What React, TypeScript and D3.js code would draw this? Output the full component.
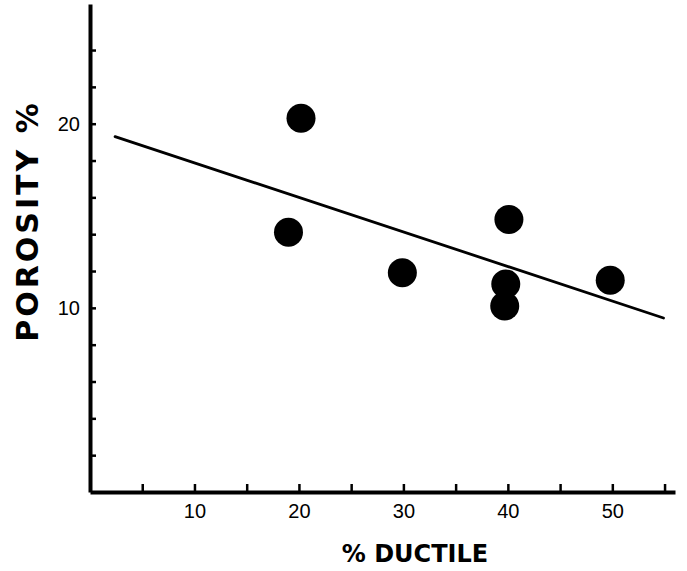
import { useRef, useEffect } from "react";
import * as d3 from "d3";

// % ductile vs porosity %
const ductile = [20.2, 19.0, 29.9, 40.1, 39.8, 39.7, 49.8];
const porosity = [20.3, 14.1, 11.9, 14.8, 11.3, 10.1, 11.5];

// fitted line end points
const fitX = [2.4, 54.9];
const fitY = [19.3, 9.45];

const xTicks = [5, 10, 15, 20, 25, 30, 35, 40, 45, 50, 55];
const yTicks = [2, 4, 6, 8, 10, 12, 14, 16, 18, 20, 22, 24];
const xLabelTicks = [10, 20, 30, 40, 50];
const yLabelTicks = [10, 20];

export default function App() {
	const svgRef = useRef(null);

	useEffect(() => {
		const width = 687,
			height = 571;

		const svg = d3
			.select(svgRef.current)
			.attr("width", width)
			.attr("height", height);

		const x = d3.scaleLinear().domain([0, 56]).range([90, 675]);
		const y = d3.scaleLinear().domain([0, 26.5]).range([492, 4]);

		const xAxis = svg
			.append("g")
			.attr("transform", `translate(0,${y(0)})`)
			.call(
				d3
					.axisBottom(x)
					.tickValues(xTicks)
					.tickSizeInner(-8)
					.tickSizeOuter(0)
					.tickPadding(12)
					.tickFormat((d) => (xLabelTicks.includes(+d) ? String(d) : ""))
			);

		const yAxis = svg
			.append("g")
			.attr("transform", `translate(${x(0)},0)`)
			.call(
				d3
					.axisLeft(y)
					.tickValues(yTicks)
					.tickSizeInner(-6)
					.tickSizeOuter(0)
					.tickPadding(10)
					.tickFormat((d) => (yLabelTicks.includes(+d) ? String(d) : ""))
			);

		[xAxis, yAxis].forEach((g) => {
			g.attr("font-size", 20).attr("font-family", "'Liberation Sans', Arial, sans-serif");
			g.select(".domain").attr("stroke", "#000").attr("stroke-width", 4);
			g.selectAll(".tick line").attr("stroke", "#000").attr("stroke-width", 2.5);
			g.selectAll(".tick text").attr("fill", "#000").attr("font-size", 20);
		});

		// regression line
		const line = d3
			.line()
			.x((d) => x(d[0]))
			.y((d) => y(d[1]));

		svg.append("path")
			.datum(fitX.map((v, i) => [v, fitY[i]]))
			.attr("fill", "none")
			.attr("stroke", "#000")
			.attr("stroke-width", 2.8)
			.attr("stroke-linecap", "round")
			.attr("d", line);

		svg.selectAll(".dot")
			.data(ductile.map((v, i) => [v, porosity[i]]))
			.enter()
			.append("circle")
			.attr("class", "dot")
			.attr("cx", (d) => x(d[0]))
			.attr("cy", (d) => y(d[1]))
			.attr("r", 14.5)
			.attr("fill", "#000");

		// X-axis label
		svg.append("text")
			.attr("x", 415)
			.attr("y", 562)
			.attr("text-anchor", "middle")
			.style("font-family", "'DejaVu Sans', sans-serif")
			.style("font-weight", "bold")
			.style("font-size", "24px")
			.text("% DUCTILE");

		// Y-axis label
		svg.append("text")
			.attr("transform", "rotate(-90)")
			.attr("x", -221)
			.attr("y", 38)
			.attr("text-anchor", "middle")
			.style("font-family", "'DejaVu Sans', sans-serif")
			.style("font-weight", "bold")
			.style("font-size", "30px")
			.style("letter-spacing", "3px")
			.text("POROSITY %");

		return () => {
			d3.select(svgRef.current).selectAll("*").remove();
		};
	}, []);

	return (
		<div>
			<svg
				ref={svgRef}
				style={{ position: "absolute", left: 0, top: 0, background: "#fff" }}
			></svg>
		</div>
	);
}
